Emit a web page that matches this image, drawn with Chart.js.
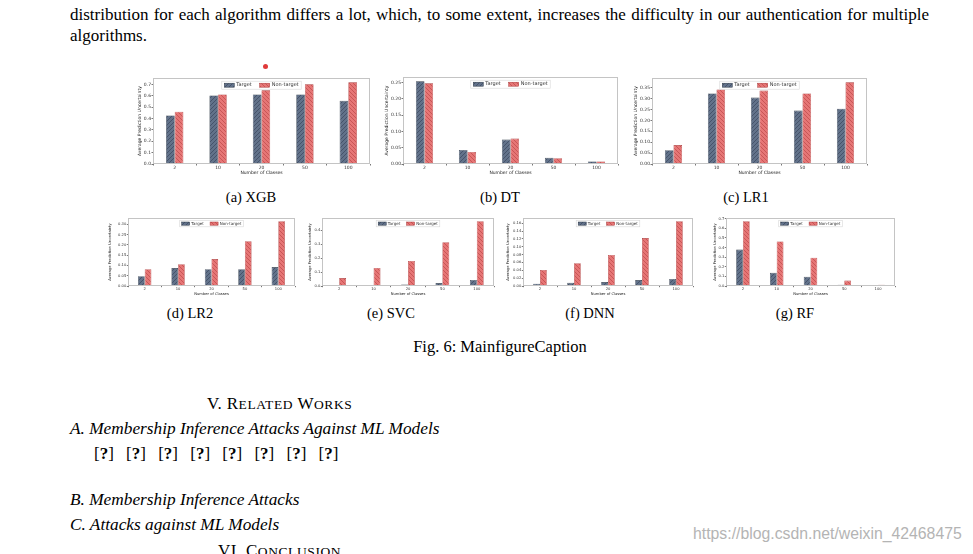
<!DOCTYPE html>
<html>
<head>
<meta charset="utf-8">
<script src="https://cdn.jsdelivr.net/npm/chart.js@4.4.0/dist/chart.umd.min.js"></script>
<style>
body{margin:0;background:#fff;width:973px;height:554px;overflow:hidden;position:relative;font-family:"Liberation Serif","Times New Roman",serif;color:#000}
.t{position:absolute;white-space:nowrap;font-size:17px;line-height:21px}
.cap{position:absolute;white-space:nowrap;font-size:14.5px;line-height:18px;transform:translateX(-50%)}
.sc{font-size:13.5px;letter-spacing:0.6px}
canvas{position:absolute}
</style>
</head>
<body>

<div class="t" style="left:70px;top:4px;width:859px;text-align:justify;text-align-last:justify">distribution for each algorithm differs a lot, which, to some extent, increases the difficulty in our authentication for multiple</div>
<div class="t" style="left:70px;top:25px">algorithms.</div>
<div style="position:absolute;left:263px;top:64px;width:5px;height:5px;border-radius:50%;background:#e03a3a"></div>

<canvas id="cXGB"></canvas>
<canvas id="cDT"></canvas>
<canvas id="cLR1"></canvas>
<canvas id="cLR2"></canvas>
<canvas id="cSVC"></canvas>
<canvas id="cDNN"></canvas>
<canvas id="cRF"></canvas>

<div class="cap" style="left:251px;top:188px">(a) XGB</div>
<div class="cap" style="left:500px;top:188px">(b) DT</div>
<div class="cap" style="left:746px;top:188px">(c) LR1</div>
<div class="cap" style="left:190px;top:304px">(d) LR2</div>
<div class="cap" style="left:391px;top:304px">(e) SVC</div>
<div class="cap" style="left:590px;top:304px">(f) DNN</div>
<div class="cap" style="left:795px;top:304px">(g) RF</div>
<div class="cap" style="left:500px;top:338px;font-size:16.5px">Fig. 6: MainfigureCaption</div>

<div class="t" style="left:207px;top:393px;letter-spacing:0.4px">V. R<span class="sc">ELATED</span> W<span class="sc">ORKS</span></div>
<div class="t" style="left:70px;top:418px;font-style:italic;font-size:17.3px">A. Membership Inference Attacks Against ML Models</div>
<div class="t" style="left:94px;top:443px;word-spacing:8px">[<b>?</b>] [<b>?</b>] [<b>?</b>] [<b>?</b>] [<b>?</b>] [<b>?</b>] [<b>?</b>] [<b>?</b>]</div>
<div class="t" style="left:70px;top:489px;font-style:italic;font-size:17.3px">B. Membership Inference Attacks</div>
<div class="t" style="left:70px;top:514px;font-style:italic;font-size:17.3px">C. Attacks against ML Models</div>
<div class="t" style="left:218px;top:540px;letter-spacing:0.4px">VI. C<span class="sc">ONCLUSION</span></div>
<div style="position:absolute;left:693px;top:525px;font-family:'Liberation Sans',Arial,sans-serif;font-size:15.8px;color:#b4b4b4;white-space:nowrap">https://blog.csdn.net/weixin_42468475</div>

<script>
const classes = ['2', '10', '20', '50', '100'];

const xgbTarget = [0.427, 0.602, 0.611, 0.611, 0.555];
const xgbNonTarget = [0.460, 0.611, 0.647, 0.700, 0.718];
const dtTarget = [0.254, 0.043, 0.075, 0.019, 0.008];
const dtNonTarget = [0.248, 0.037, 0.078, 0.018, 0.008];
const lr1Target = [0.063, 0.324, 0.305, 0.245, 0.254];
const lr1NonTarget = [0.087, 0.342, 0.337, 0.324, 0.375];
const lr2Target = [0.048, 0.087, 0.082, 0.082, 0.092];
const lr2NonTarget = [0.082, 0.106, 0.131, 0.218, 0.315];
const svcTarget = [0.007, 0.007, 0.010, 0.021, 0.043];
const svcNonTarget = [0.057, 0.129, 0.179, 0.314, 0.464];
const dnnTarget = [0.006, 0.008, 0.010, 0.015, 0.018];
const dnnNonTarget = [0.041, 0.058, 0.079, 0.122, 0.165];
const rfTarget = [0.379, 0.137, 0.095, 0.014, 0.004];
const rfNonTarget = [0.674, 0.463, 0.295, 0.056, 0.014];

const xgbTicks = ['0.0', '0.1', '0.2', '0.3', '0.4', '0.5', '0.6', '0.7'];
const dtTicks = ['0.00', '0.05', '0.10', '0.15', '0.20', '0.25'];
const lr1Ticks = ['0.00', '0.05', '0.10', '0.15', '0.20', '0.25', '0.30', '0.35'];
const lr2Ticks = ['0.00', '0.05', '0.10', '0.15', '0.20', '0.25', '0.30'];
const svcTicks = ['0.0', '0.1', '0.2', '0.3', '0.4'];
const dnnTicks = ['0.00', '0.02', '0.04', '0.06', '0.08', '0.10', '0.12', '0.14', '0.16'];
const rfTicks = ['0.0', '0.1', '0.2', '0.3', '0.4', '0.5', '0.6', '0.7'];

Chart.defaults.font.family = '"DejaVu Sans", sans-serif';

// hatched fill like matplotlib '////' and '\\\\'
function hatch(ctx, base, line, back) {
  const c = document.createElement('canvas');
  c.width = 4; c.height = 4;
  const g = c.getContext('2d');
  g.fillStyle = base;
  g.fillRect(0, 0, 4, 4);
  g.strokeStyle = line;
  g.lineWidth = 1;
  g.beginPath();
  if (back) {
    g.moveTo(0, 0); g.lineTo(4, 4);
    g.moveTo(-1, 3); g.lineTo(1, 5);
    g.moveTo(3, -1); g.lineTo(5, 1);
  } else {
    g.moveTo(0, 4); g.lineTo(4, 0);
    g.moveTo(-1, 1); g.lineTo(1, -1);
    g.moveTo(3, 5); g.lineTo(5, 3);
  }
  g.stroke();
  return ctx.createPattern(c, 'repeat');
}

const framePlugin = {
  id: 'frame',
  afterDraw(chart) {
    const a = chart.chartArea, ctx = chart.ctx;
    ctx.save();
    ctx.strokeStyle = '#c4c4c4';
    ctx.lineWidth = 1;
    ctx.strokeRect(Math.round(a.left) + 0.5, Math.round(a.top) + 0.5,
      Math.round(a.right - a.left) - 1, Math.round(a.bottom - a.top) - 1);
    ctx.restore();
  }
};

// legend drawn inside the axes, top centre
const innerLegend = {
  id: 'innerLegend',
  afterDraw(chart, args, opts) {
    const ctx = chart.ctx, a = chart.chartArea, k = opts.scale;
    const f = 5 * k, sw = 10 * k, sh = 4 * k, gap = 2 * k, sep = 8 * k, pad = 2.5 * k;
    ctx.save();
    ctx.font = f + 'px "DejaVu Sans"';
    const items = chart.data.datasets.map(d => ({ d: d, w: ctx.measureText(d.label).width }));
    let total = sep * (items.length - 1);
    items.forEach(it => { total += sw + gap + it.w; });
    let x = (a.left + a.right) / 2 - total / 2;
    const cy = a.top + 7 * k;
    ctx.fillStyle = 'rgba(255,255,255,0.85)';
    ctx.strokeStyle = '#d8d8d8';
    ctx.lineWidth = 0.6;
    ctx.fillRect(x - pad, cy - f / 2 - pad * 0.6, total + 2 * pad, f + pad * 1.2);
    ctx.strokeRect(x - pad, cy - f / 2 - pad * 0.6, total + 2 * pad, f + pad * 1.2);
    ctx.textBaseline = 'middle';
    items.forEach(it => {
      ctx.fillStyle = it.d.backgroundColor;
      ctx.fillRect(x, cy - sh / 2, sw, sh);
      ctx.strokeStyle = it.d.borderColor;
      ctx.lineWidth = 0.5;
      ctx.strokeRect(x, cy - sh / 2, sw, sh);
      ctx.fillStyle = '#333';
      ctx.fillText(it.d.label, x + sw + gap, cy);
      x += sw + gap + it.w + sep;
    });
    ctx.restore();
  }
};

function drawChart(box, target, nonTarget, yTicks) {
  const cv = document.getElementById(box.id);
  const left = box.L - box.padL, top = box.T - 3;
  const w = box.R + 3 - left, h = box.B + box.botH - top;
  cv.width = w; cv.height = h;
  cv.style.left = left + 'px'; cv.style.top = top + 'px';
  cv.style.width = w + 'px'; cv.style.height = h + 'px';
  const ctx = cv.getContext('2d');
  const f = box.f;
  const ymax = Math.max(...target, ...nonTarget) * 1.05;
  new Chart(cv, {
    type: 'bar',
    data: {
      labels: classes,
      datasets: [
        { label: 'Target', data: target, backgroundColor: hatch(ctx, '#62728a', '#46536a', false),
          borderColor: '#2e3846', borderWidth: 0.6 },
        { label: 'Non-target', data: nonTarget, backgroundColor: hatch(ctx, '#e67676', '#c85656', true),
          borderColor: '#a83838', borderWidth: 0.6 }
      ]
    },
    options: {
      responsive: false,
      animation: false,
      devicePixelRatio: 1,
      layout: { padding: { top: 3, right: 3, left: 0, bottom: 0 } },
      datasets: { bar: { categoryPercentage: 0.4, barPercentage: 1 } },
      plugins: {
        legend: { display: false },
        tooltip: { enabled: false },
        innerLegend: { scale: box.k }
      },
      scales: {
        x: {
          grid: { drawOnChartArea: false, tickLength: 1.5 * box.k, color: '#777' },
          border: { display: false },
          ticks: { font: { size: f }, color: '#333', padding: 0, maxRotation: 0 },
          title: { display: true, text: 'Number of Classes', font: { size: f }, color: '#222', padding: 0 },
          afterFit(s) { s.height = box.botH; }
        },
        y: {
          min: 0,
          max: ymax,
          grid: { drawOnChartArea: false, tickLength: 1.5 * box.k, color: '#777' },
          border: { display: false },
          ticks: { font: { size: f }, color: '#333', padding: 0.5, autoSkip: false,
            callback: (v, i) => yTicks[i] },
          afterBuildTicks(s) { s.ticks = yTicks.map(t => ({ value: parseFloat(t) })); },
          title: { display: true, text: 'Average Prediction Uncertainty', font: { size: f }, color: '#222', padding: 0 },
          afterFit(s) { s.width = box.padL; }
        }
      }
    },
    plugins: [framePlugin, innerLegend]
  });
}

drawChart({ id: 'cXGB', L: 153, T: 78, R: 370, B: 164, padL: 16, botH: 12, f: 4.5, k: 1 }, xgbTarget, xgbNonTarget, xgbTicks);
drawChart({ id: 'cDT', L: 403, T: 77, R: 618, B: 164, padL: 19, botH: 12, f: 4.5, k: 1 }, dtTarget, dtNonTarget, dtTicks);
drawChart({ id: 'cLR1', L: 652, T: 78, R: 867, B: 164, padL: 19, botH: 12, f: 4.5, k: 1 }, lr1Target, lr1NonTarget, lr1Ticks);
drawChart({ id: 'cLR2', L: 128, T: 218, R: 295, B: 286, padL: 20, botH: 10, f: 3.7, k: 0.8 }, lr2Target, lr2NonTarget, lr2Ticks);
drawChart({ id: 'cSVC', L: 322, T: 218, R: 494, B: 286, padL: 14, botH: 10, f: 3.7, k: 0.8 }, svcTarget, svcNonTarget, svcTicks);
drawChart({ id: 'cDNN', L: 523, T: 218, R: 693, B: 286, padL: 17, botH: 10, f: 3.7, k: 0.8 }, dnnTarget, dnnNonTarget, dnnTicks);
drawChart({ id: 'cRF', L: 726, T: 218, R: 895, B: 286, padL: 13, botH: 10, f: 3.7, k: 0.8 }, rfTarget, rfNonTarget, rfTicks);
</script>
</body>
</html>
